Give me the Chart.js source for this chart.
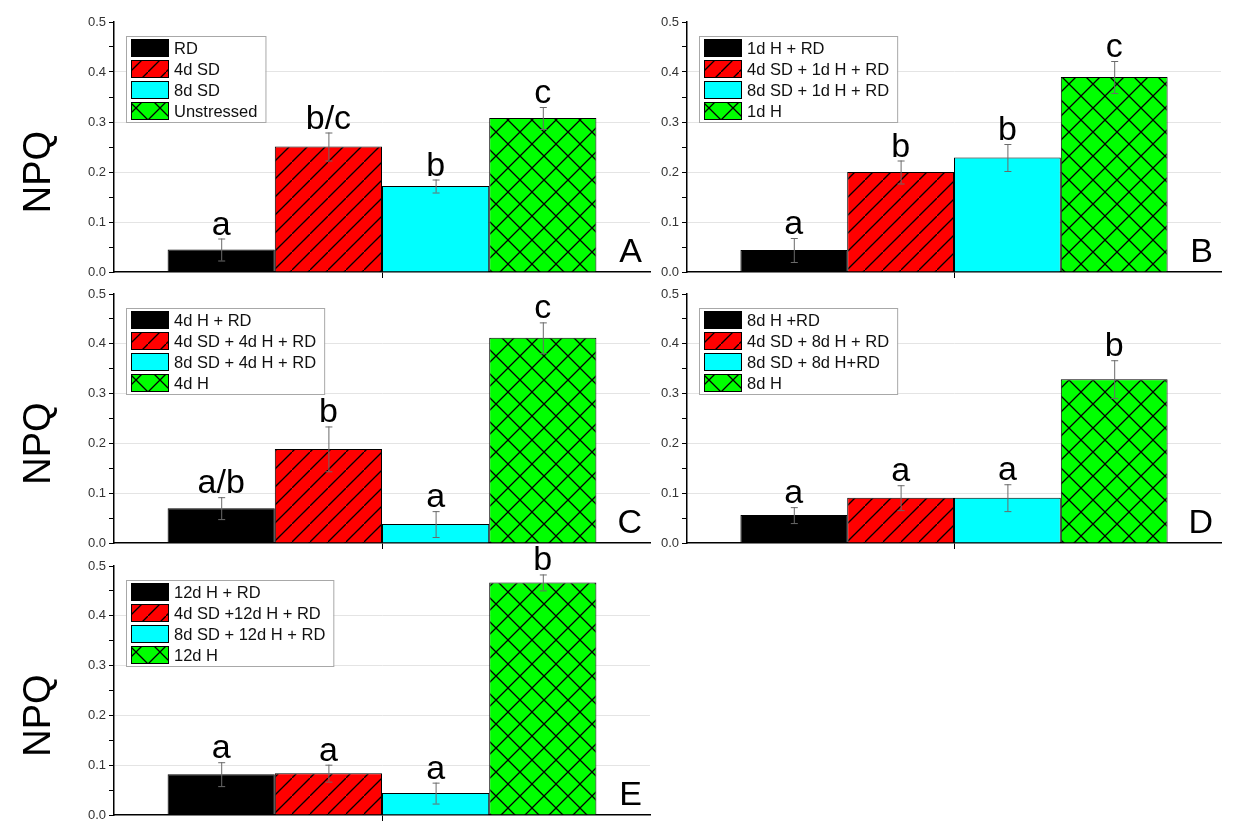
<!DOCTYPE html>
<html>
<head>
<meta charset="utf-8">
<script src="https://cdn.jsdelivr.net/npm/chart.js@4.4.1/dist/chart.umd.min.js"></script>
<style>
  html, body { margin: 0; background: #fff; }
  #wrap { position: relative; width: 1236px; height: 840px; overflow: hidden; background: #fff; }
  #wrap canvas { position: absolute; }
</style>
</head>
<body>
<div id="wrap"></div>
<script>
// --- data ---
const categories = [""];
const yTickLabels = ["0.0", "0.1", "0.2", "0.3", "0.4", "0.5"];

const seriesA = ["RD", "4d SD", "8d SD", "Unstressed"];
const valuesA = [0.045, 0.251, 0.172, 0.308];
const errorsA = [0.022, 0.028, 0.013, 0.022];
const lettersA = ["a", "b/c", "b", "c"];

const seriesB = ["1d H + RD", "4d SD + 1d H + RD", "8d SD + 1d H + RD", "1d H"];
const valuesB = [0.044, 0.200, 0.229, 0.390];
const errorsB = [0.024, 0.023, 0.027, 0.032];
const lettersB = ["a", "b", "b", "c"];

const seriesC = ["4d H + RD", "4d SD + 4d H + RD", "8d SD + 4d H + RD", "4d H"];
const valuesC = [0.070, 0.189, 0.038, 0.412];
const errorsC = [0.022, 0.045, 0.026, 0.031];
const lettersC = ["a/b", "b", "a", "c"];

const seriesD = ["8d H +RD", "4d SD + 8d H + RD", "8d SD + 8d H+RD", "8d H"];
const valuesD = [0.056, 0.091, 0.091, 0.329];
const errorsD = [0.016, 0.025, 0.027, 0.038];
const lettersD = ["a", "a", "a", "b"];

const seriesE = ["12d H + RD", "4d SD +12d H + RD", "8d SD + 12d H + RD", "12d H"];
const valuesE = [0.082, 0.084, 0.044, 0.467];
const errorsE = [0.024, 0.017, 0.021, 0.016];
const lettersE = ["a", "a", "a", "b"];

const FONT = '"Liberation Sans", Arial, sans-serif';

function hatch(color, size, cross) {
  const c = document.createElement("canvas");
  c.width = size; c.height = size;
  const g = c.getContext("2d");
  g.fillStyle = color;
  g.fillRect(0, 0, size, size);
  g.strokeStyle = "#000";
  g.lineWidth = 1.3;
  g.beginPath();
  g.moveTo(-1, size + 1); g.lineTo(size + 1, -1);
  if (cross) { g.moveTo(-1, -1); g.lineTo(size + 1, size + 1); }
  g.stroke();
  return g.createPattern(c, "repeat");
}

const fills = ["#000000", hatch("#ff0000", 18, false), "#00ffff", hatch("#00ff00", 24, true)];

// axis box of each panel on the page: left, right, top, bottom
const panels = [
  { tag: "A", box: [114, 650, 22, 272], names: seriesA, vals: valuesA, errs: errorsA, sig: lettersA, npq: true },
  { tag: "B", box: [687, 1221, 22, 272], names: seriesB, vals: valuesB, errs: errorsB, sig: lettersB, npq: false },
  { tag: "C", box: [114, 650, 294, 543], names: seriesC, vals: valuesC, errs: errorsC, sig: lettersC, npq: true },
  { tag: "D", box: [687, 1221, 294, 543], names: seriesD, vals: valuesD, errs: errorsD, sig: lettersD, npq: false },
  { tag: "E", box: [114, 650, 566, 815], names: seriesE, vals: valuesE, errs: errorsE, sig: lettersE, npq: true }
];

const PADL = 110, PADR = 12, PADT = 22, PADB = 22;

const decor = {
  id: "decor",
  afterDatasetsDraw(chart) {
    const ctx = chart.ctx;
    const y = chart.scales.y;
    const area = chart.chartArea;
    const p = chart.options.plugins.decor;
    ctx.save();

    // error bars and significance letters
    chart.data.datasets.forEach((ds, i) => {
      const bar = chart.getDatasetMeta(i).data[0];
      const v = ds.data[0], e = ds.err;
      const yt = y.getPixelForValue(v + e);
      const yb = y.getPixelForValue(Math.max(v - e, 0));
      ctx.strokeStyle = "#6a6a6a";
      ctx.lineWidth = 1;
      ctx.beginPath();
      ctx.moveTo(bar.x + 0.5, yt); ctx.lineTo(bar.x + 0.5, yb);
      ctx.moveTo(bar.x - 3, yt + 0.5); ctx.lineTo(bar.x + 4, yt + 0.5);
      ctx.moveTo(bar.x - 3, yb + 0.5); ctx.lineTo(bar.x + 4, yb + 0.5);
      ctx.stroke();
      ctx.fillStyle = "#000";
      ctx.font = "34px " + FONT;
      ctx.textAlign = "center";
      ctx.textBaseline = "alphabetic";
      ctx.fillText(ds.sig, bar.x, yt - 4);
    });

    // legend box inside the plot
    ctx.font = "16.5px " + FONT;
    const names = chart.data.datasets.map(d => d.label);
    const tw = Math.max(...names.map(n => ctx.measureText(n).width));
    const lx = area.left + 12, ly = area.top + 14;
    const lw = 48 + tw + 8, lh = 86;
    ctx.fillStyle = "#fff";
    ctx.fillRect(lx, ly, lw, lh);
    ctx.strokeStyle = "#a8a8a8";
    ctx.lineWidth = 1;
    ctx.strokeRect(lx + 0.5, ly + 0.5, lw, lh);
    chart.data.datasets.forEach((ds, i) => {
      const sy = ly + 3 + i * 21;
      ctx.fillStyle = ds.backgroundColor;
      ctx.fillRect(lx + 5, sy, 38, 18);
      ctx.strokeStyle = "#000";
      ctx.strokeRect(lx + 5.5, sy + 0.5, 37, 17);
      ctx.fillStyle = "#111";
      ctx.textAlign = "left";
      ctx.textBaseline = "middle";
      ctx.fillText(ds.label, lx + 48, sy + 10);
    });

    // panel tag
    ctx.fillStyle = "#000";
    ctx.font = "34px " + FONT;
    ctx.textAlign = "right";
    ctx.textBaseline = "alphabetic";
    ctx.fillText(p.tag, area.right - 8, area.bottom - 10);

    // y title
    if (p.npq) {
      ctx.translate(area.left - 74, (area.top + area.bottom) / 2 + 25);
      ctx.rotate(-Math.PI / 2);
      ctx.font = "38px " + FONT;
      ctx.textAlign = "center";
      ctx.textBaseline = "middle";
      ctx.fillText("NPQ", 0, 0);
    }
    ctx.restore();
  }
};

const wrap = document.getElementById("wrap");

panels.forEach(pn => {
  const [l, r, t, b] = pn.box;
  const cv = document.createElement("canvas");
  cv.width = (r - l) + PADL + PADR;
  cv.height = (b - t) + PADT + PADB;
  cv.style.left = (l - PADL) + "px";
  cv.style.top = (t - PADT) + "px";
  wrap.appendChild(cv);

  const datasets = pn.names.map((name, i) => ({
    label: name,
    data: [pn.vals[i]],
    err: pn.errs[i],
    sig: pn.sig[i],
    backgroundColor: fills[i],
    borderColor: "#000",
    borderWidth: 1
  }));

  new Chart(cv.getContext("2d"), {
    type: "bar",
    data: { labels: categories, datasets },
    options: {
      responsive: false,
      animation: false,
      categoryPercentage: 0.8,
      barPercentage: 1.0,
      layout: { padding: { top: PADT, right: PADR, left: 0, bottom: 0 } },
      plugins: {
        legend: { display: false },
        tooltip: { enabled: false },
        decor: { tag: pn.tag, npq: pn.npq }
      },
      scales: {
        x: {
          afterFit: s => { s.height = PADB; },
          ticks: { display: false },
          grid: { display: true, offset: false, drawOnChartArea: false, drawTicks: true, tickLength: 6, color: "#000", tickColor: "#000" },
          border: { display: true, color: "#000", width: 1.5 }
        },
        y: {
          min: 0,
          max: 0.5,
          afterFit: s => { s.width = PADL; },
          ticks: {
            stepSize: 0.05,
            padding: 3,
            color: "#333",
            font: { family: FONT, size: 13 },
            autoSkip: false,
            callback: v => {
              const k = Math.round(v * 100);
              return k % 10 === 0 ? yTickLabels[k / 10] : "";
            }
          },
          grid: {
            drawTicks: true,
            tickLength: 5,
            tickColor: "#000",
            color: ctx => {
              const k = Math.round(ctx.tick.value * 100);
              return (k % 10 === 0 && k > 0 && k < 50) ? "#e4e4e4" : "rgba(0,0,0,0)";
            }
          },
          border: { display: true, color: "#000", width: 1.5 }
        }
      }
    },
    plugins: [decor]
  });
});
</script>
</body>
</html>
